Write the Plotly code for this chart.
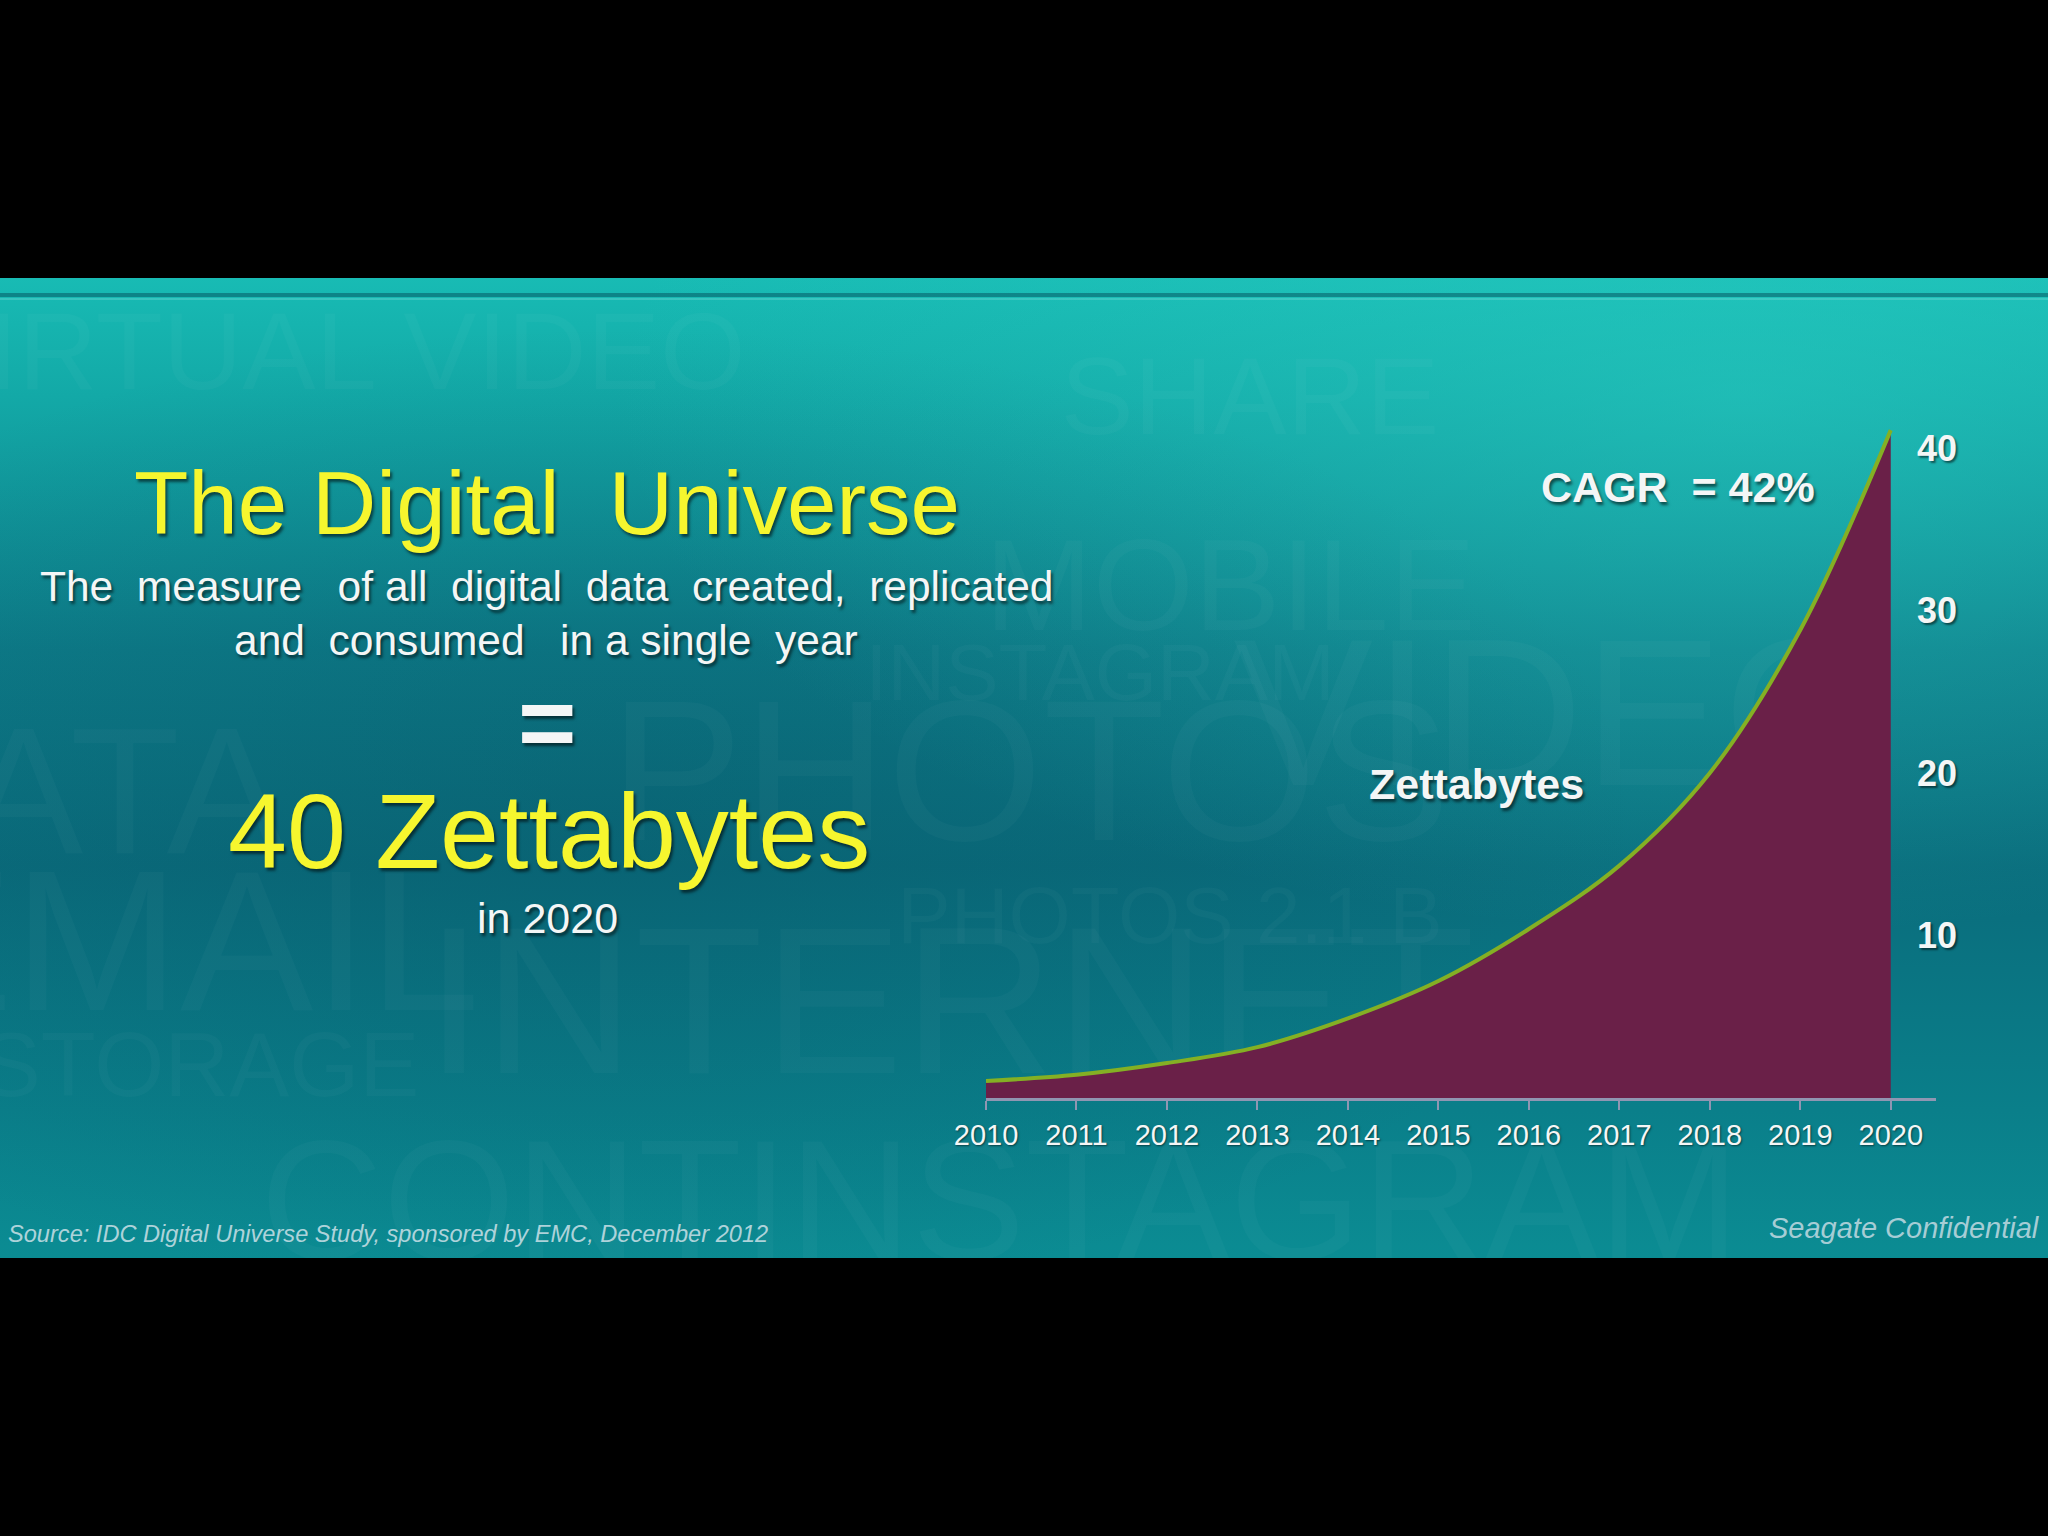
import base64
import plotly.graph_objects as go

# Digital universe size, zettabytes
years = [2010, 2011, 2012, 2013, 2014, 2015, 2016, 2017, 2018, 2019, 2020]
zettabytes = [1.05, 1.43, 2.15, 3.13, 4.9, 7.2, 10.4, 14.3, 20.0, 28.8, 41.1]
y_ticks = [10, 20, 30, 40]

W, H = 2048, 1536
SLIDE_TOP, SLIDE_BOTTOM = 278, 1258

YELLOW = "#F6F62E"
WHITE = "#F4F6F6"
FILL = "#6A2048"
LINE = "#84B024"
AXIS = "#9096B2"
SHADOW = "2px 3px 3px rgba(0,0,0,0.55)"
FONT = "Liberation Sans, Arial, sans-serif"


def px(x):
    return x / W


def py(y):
    return 1 - y / H


#  Slide background (teal gradient + faint word texture)

# texture words baked into the background picture: (word, x, y, size)
texture_words = [
    ("VIRTUAL VIDEO", 330, 350, 110),
    ("SHARE", 1250, 395, 110),
    ("MOBILE", 1230, 585, 130),
    ("INSTAGRAM", 1100, 672, 80),
    ("VIDEO", 1560, 712, 210),
    ("PHOTOS", 1030, 770, 200),
    ("DATA", 60, 790, 180),
    ("PHOTOS 2.1 B", 1170, 915, 80),
    ("EMAIL", 180, 940, 200),
    ("INTERNET", 950, 1000, 210),
    ("STORAGE", 200, 1065, 90),
    ("CONTINSTAGRAM", 1000, 1200, 170),
]
texture_svg = "".join(
    f'<text x="{x}" y="{y - SLIDE_TOP}" font-size="{s}" text-anchor="middle" '
    f'dominant-baseline="central">{w}</text>'
    for w, x, y, s in texture_words
)

BG_SVG = f"""<svg xmlns="http://www.w3.org/2000/svg" width="2048" height="980" viewBox="0 0 2048 980" preserveAspectRatio="none">
<defs>
<linearGradient id="g" x1="0" y1="0" x2="0" y2="1">
<stop offset="0" stop-color="#18BBB4"/>
<stop offset="0.12" stop-color="#13A9A7"/>
<stop offset="0.38" stop-color="#0D7B88"/>
<stop offset="0.6" stop-color="#0A6C7C"/>
<stop offset="0.85" stop-color="#0A7F8A"/>
<stop offset="1" stop-color="#0B8C93"/>
</linearGradient>
<radialGradient id="r" cx="0.85" cy="0.12" r="0.55">
<stop offset="0" stop-color="#2BCFC4" stop-opacity="0.5"/>
<stop offset="1" stop-color="#2BCFC4" stop-opacity="0"/>
</radialGradient>
<radialGradient id="d" cx="0.3" cy="0.55" r="0.5">
<stop offset="0" stop-color="#064E60" stop-opacity="0.3"/>
<stop offset="1" stop-color="#064E60" stop-opacity="0"/>
</radialGradient>
</defs>
<rect width="2048" height="980" fill="url(#g)"/>
<rect width="2048" height="980" fill="url(#r)"/>
<rect width="2048" height="980" fill="url(#d)"/>
<g font-family="Liberation Sans, Arial, sans-serif" fill="#FFFFFF" fill-opacity="0.028">{texture_svg}</g>
</svg>"""
bg_uri = "data:image/svg+xml;base64," + base64.b64encode(BG_SVG.encode()).decode()

fig = go.Figure()

fig.add_trace(go.Scatter(
    x=years, y=zettabytes,
    mode="lines",
    line=dict(color=LINE, width=4, shape="spline", smoothing=1),
    fill="tozeroy",
    fillcolor=FILL,
    hoverinfo="x+y",
    showlegend=False,
))

annotations = []


def label(text, x, y, size, color, bold=False, italic=False, xanchor="center", shadow=SHADOW):
    annotations.append(dict(
        text=text, x=px(x), y=py(y), xref="paper", yref="paper",
        xanchor=xanchor, yanchor="middle", showarrow=False,
        font=dict(family=FONT, size=size, color=color,
                  weight="bold" if bold else "normal",
                  style="italic" if italic else "normal",
                  shadow=shadow),
    ))


label("The Digital  Universe", 547, 503, 89, YELLOW)
label("The  measure   of all  digital  data  created,  replicated", 546, 586, 42.5, WHITE)
label("and  consumed   in a single  year", 546, 641, 42.5, WHITE)
label("=", 547, 722, 100, WHITE, bold=True)
label("40 Zettabytes", 549, 831, 106, YELLOW)
label("in 2020", 547, 918, 43, WHITE)
label("CAGR  = 42%", 1678, 487, 43, WHITE, bold=True)
label("Zettabytes", 1476, 784, 43, WHITE, bold=True)
label("Source: IDC Digital Universe Study, sponsored by EMC, December 2012", 6, 1234, 23.6,
      "rgba(205,225,232,0.85)", italic=True, xanchor="left", shadow="none")
label("Seagate Confidential", 2042, 1228, 29,
      "rgba(195,218,226,0.85)", italic=True, xanchor="right", shadow="none")

fig.update_layout(
    width=W, height=H,
    margin=dict(l=0, r=0, t=0, b=0, pad=0, autoexpand=False),
    paper_bgcolor="black",
    plot_bgcolor="rgba(0,0,0,0)",
    images=[dict(
        source=bg_uri, xref="paper", yref="paper",
        x=0, y=py(SLIDE_TOP), sizex=1, sizey=(SLIDE_BOTTOM - SLIDE_TOP) / H,
        xanchor="left", yanchor="top", sizing="stretch", layer="below",
    )],
    shapes=[
        dict(type="line", xref="paper", yref="paper", x0=0, x1=1,
             y0=py(295), y1=py(295), line=dict(color="rgba(5,90,100,0.55)", width=4)),
        dict(type="line", xref="paper", yref="paper", x0=0, x1=1,
             y0=py(299), y1=py(299), line=dict(color="rgba(120,220,215,0.35)", width=2)),
    ],
    xaxis=dict(
        domain=[px(986), px(1936)],
        range=[2010, 2020.5],
        tickvals=years,
        ticktext=[str(y) for y in years],
        showgrid=False, zeroline=False,
        showline=True, linecolor=AXIS, linewidth=3,
        ticks="outside", ticklen=9, tickwidth=2, tickcolor=AXIS,
        tickfont=dict(family=FONT, size=29, color=WHITE, shadow="1px 1px 2px rgba(0,0,0,0.5)"),
        automargin=False,
        fixedrange=True,
    ),
    yaxis=dict(
        domain=[py(1098), py(1098 - 42.5 * 16.25)],
        range=[0, 42.5],
        anchor="free", position=px(1916), side="right",
        tickvals=y_ticks,
        ticktext=[str(v) for v in y_ticks],
        showgrid=False, zeroline=False, showline=False, ticks="",
        tickfont=dict(family=FONT, size=36, color=WHITE, weight="bold",
                      shadow="2px 2px 2px rgba(0,0,0,0.5)"),
        automargin=False,
        fixedrange=True,
    ),
    annotations=annotations,
    font=dict(family=FONT, color=WHITE),
    hovermode="closest",
)

fig.write_html("out.html", config={"displayModeBar": False},
               post_script="document.body.style.margin='0';")
